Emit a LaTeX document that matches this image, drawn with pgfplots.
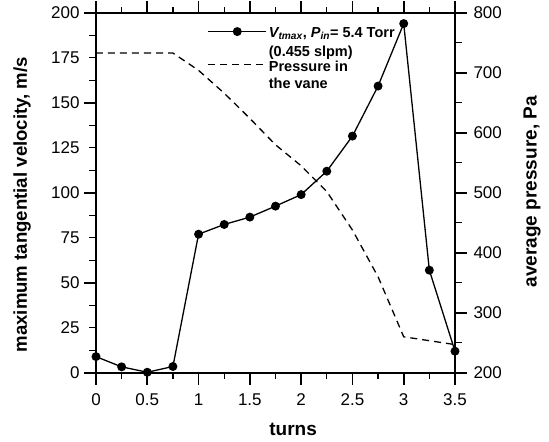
\documentclass[border=0pt]{standalone}
\usepackage{pgfplots}
\pgfplotsset{compat=1.18}
\usepackage{fontspec}
\setmainfont{Liberation Sans}

\begin{document}
\begin{tikzpicture}[font=\fontsize{17}{20}\selectfont]
% fixed canvas: the axis box is 359pt x 360pt at the origin
\path (-96pt,-69pt) rectangle (453pt,371pt);
\begin{axis}[
  scale only axis, width=359pt, height=360pt,
  xmin=0, xmax=3.5, ymin=0, ymax=200,
  xtick={0,0.5,...,3.5}, ytick={0,25,...,200},
  major tick length=0pt, minor tick length=0pt,
  axis line style={line width=1.8pt},
  /pgf/number format/assume math mode=true,
  xticklabel style={yshift=-17pt},
  yticklabel style={xshift=-13pt},
  xlabel={\fontsize{19}{22}\selectfont\bfseries turns},
  ylabel={\fontsize{18.6}{22}\selectfont\bfseries maximum tangential velocity, m/s},
  xlabel style={at={(axis description cs:0.549,-0.156)}, anchor=center},
  ylabel style={at={(axis description cs:-0.206,0.467)}, anchor=center},
  legend cell align=left,
  legend style={draw=none, fill=none, at={(0.302,0.972)}, anchor=north west,
    font=\fontsize{14.5}{17}\selectfont\bfseries,
    cells={align=left}, row sep=-1pt},
  legend image code/.code={\draw[#1, yshift=11pt] plot coordinates {(0pt,0pt) (29pt,0pt) (58pt,0pt)};},
]
\addplot[black, line width=1.3pt, mark=*, mark size=3.8pt, forget plot] coordinates {
  (0,9) (0.25,3.3) (0.5,0.3) (0.75,3.5) (1,77) (1.25,82.4) (1.5,86.5)
  (1.75,92.6) (2,99) (2.25,112) (2.5,131.5) (2.75,159.3) (3,194) (3.25,57) (3.5,12)};
\addlegendimage{black, line width=1.3pt, mark=*, mark size=3.8pt, mark repeat=2, mark phase=2}
\addlegendentry{\textit{V\textsubscript{tmax}}, \textit{P\textsubscript{in}}= 5.4 Torr\\[2.5pt](0.455 slpm)}
\addlegendimage{black, line width=1.3pt, dash pattern=on 7pt off 5pt}
\addlegendentry{Pressure in\\the vane}
\end{axis}
\begin{axis}[
  scale only axis, width=359pt, height=360pt,
  xmin=0, xmax=3.5, ymin=200, ymax=800,
  axis x line=none,
  axis y line*=right,
  ytick={200,300,...,800},
  major tick length=0pt, minor tick length=0pt,
  axis line style={line width=1.8pt, -},
  /pgf/number format/assume math mode=true,
  yticklabel style={xshift=15pt},
  ylabel={\fontsize{19}{22}\selectfont\bfseries average pressure, Pa},
  ylabel style={at={(axis description cs:1.2145,0.503)}, anchor=center},
]
\addplot[black, line width=1.3pt, dash pattern=on 7pt off 5pt] coordinates {
  (0,733) (0.75,733) (1,704) (1.25,666) (1.5,624) (1.75,580) (2,545)
  (2.25,502) (2.5,438) (2.75,360) (3,260) (3.5,247)};
\end{axis}
% outward tick marks on all four sides
\begin{scope}[line width=1.6pt]
\foreach \x in {0,0.5,...,3.5} {
  \draw (\x*102.5714pt,0) -- ++(0,-12pt);
  \draw (\x*102.5714pt,360pt) -- ++(0,12pt);
}
\foreach \v in {0,50,...,200} \draw (0,\v*1.8pt) -- ++(-12pt,0);
\foreach \p in {200,300,...,800} \draw (359pt,{(\p-200)*0.6pt}) -- ++(12pt,0);
\end{scope}
\begin{scope}[line width=1.4pt]
\foreach \x in {0.25,0.75,...,3.25} {
  \draw (\x*102.5714pt,0) -- ++(0,-6pt);
  \draw (\x*102.5714pt,360pt) -- ++(0,6pt);
}
\foreach \v in {12.5,25,...,187.5} \draw (0,\v*1.8pt) -- ++(-7pt,0);
\foreach \p in {250,350,...,750} \draw (359pt,{(\p-200)*0.6pt}) -- ++(7pt,0);
\end{scope}
\end{tikzpicture}
\end{document}
